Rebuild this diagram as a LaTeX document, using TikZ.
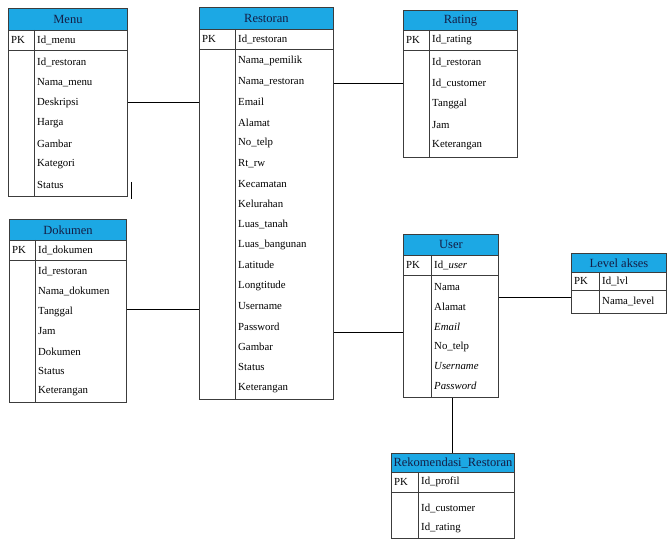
\documentclass[tikz,border=0pt]{standalone}
\usepackage{fontspec}
\setmainfont{Liberation Serif}
\definecolor{hdrblue}{RGB}{28,168,228}
\definecolor{hdrtext}{RGB}{20,30,70}
\definecolor{edge}{RGB}{60,60,60}
\tikzset{
  frame/.style={draw=edge, line width=0.9pt},
  hdr/.style={frame, fill=hdrblue, text=hdrtext, inner sep=0pt, anchor=north west,
    font=\fontsize{12.5}{12.5}\selectfont},
  fld/.style={anchor=west, inner sep=0pt, font=\fontsize{10.8}{10.8}\selectfont},
  link/.style={draw=black, line width=0.9pt}
}
% #1 name, #2 left, #3 right, #4 top, #5 header bottom, #6 key-row bottom,
% #7 bottom, #8 column divider, #9 title
\newcommand\erentity[9]{%
  \node[frame, anchor=north west, inner sep=0pt, minimum width={#3-#2},
        minimum height={#7-#4}] (#1) at (#2,#4) {};
  \node[hdr, minimum width={#3-#2}, minimum height={#5-#4}] (#1-h) at (#2,#4) {#9};
  \coordinate (#1-kl) at (#2,#6);
  \coordinate (#1-kr) at (#3,#6);
  \coordinate (#1-dt) at (#8,#5);
  \coordinate (#1-db) at (#8,#7);
  \coordinate (#1-pk) at (#2,{(#5+#6)/2});
  \coordinate (#1-key) at (#8,{(#5+#6)/2});
  \coordinate (#1-bt) at (#8,#6);
  \draw[frame] (#1-kl) -- (#1-kr);
  \draw[frame] (#1-dt) -- (#1-db);
  \node[fld] (#1-pklabel) at ([xshift=3pt]#1-pk) {PK};
}
% #1 name, #2 key field, #3 top gap, #4 row height, #5 list of fields
\newcommand\erfields[5]{%
  \node[fld] (#1-keylabel) at ([xshift=3pt]#1-key) {#2};
  \foreach \t [count=\i] in {#5} {
    \node[fld] (#1-f\i) at ([xshift=3pt, yshift={-(#3+(\i-0.5)*#4)}]#1-bt) {\t};
  }
}
\begin{document}
\begin{tikzpicture}[x=1pt, y=-1pt]
  \useasboundingbox (0,0) rectangle (667,540);

  \erentity{menu}{8}{127}{8}{30}{50}{196}{34}{Menu}
  \erfields{menu}{Id\_menu}{2pt}{20.43pt}{Id\_restoran, Nama\_menu, Deskripsi, Harga, Gambar, Kategori, Status}

  \erentity{rest}{199}{333}{7}{29}{49}{399}{235}{Restoran}
  \erfields{rest}{Id\_restoran}{2pt}{20.41pt}{Nama\_pemilik, Nama\_restoran, Email, Alamat, No\_telp, Rt\_rw,
    Kecamatan, Kelurahan, Luas\_tanah, Luas\_bangunan, Latitude, Longtitude, Username, Password,
    Gambar, Status, Keterangan}

  \erentity{rating}{403}{517}{10}{30}{50}{157}{429}{Rating}
  \erfields{rating}{Id\_rating}{2pt}{20.8pt}{Id\_restoran, Id\_customer, Tanggal, Jam, Keterangan}

  \erentity{dok}{9}{126}{219}{240}{260}{402}{35}{Dokumen}
  \erfields{dok}{Id\_dokumen}{2pt}{19.86pt}{Id\_restoran, Nama\_dokumen, Tanggal, Jam, Dokumen, Status, Keterangan}

  \erentity{user}{403}{498}{234}{255}{275}{397}{431}{User}
  \erfields{user}{Id\_\textit{user}}{2pt}{19.83pt}{Nama, Alamat, \textit{Email}, No\_telp, \textit{Username}, \textit{Password}}

  \erentity{level}{571}{666}{253}{272}{290}{313}{599}{Level akses}
  \erfields{level}{Id\_lvl}{1pt}{21pt}{Nama\_level}

  \erentity{rek}{391}{514}{453}{472}{492}{538}{418}{Rekomendasi\_Restoran}
  \erfields{rek}{Id\_profil}{6pt}{20pt}{Id\_customer, Id\_rating}

  % relationships
  \draw[link] (menu.east |- 0,102) -- (rest.west |- 0,102);
  \draw[link] (dok.east |- 0,309) -- (rest.west |- 0,309);
  \draw[link] (rest.east |- 0,83) -- (rating.west |- 0,83);
  \draw[link] (rest.east |- 0,332) -- (user.west |- 0,332);
  \draw[link] (user.east |- 0,297) -- (level.west |- 0,297);
  \draw[link] (user.south -| 452,0) -- (rek-h.north -| 452,0);

  % short stroke beside the Menu table
  \coordinate (tickA) at (131,182);
  \coordinate (tickB) at (131,199);
  \draw[link] (tickA) -- (tickB);
\end{tikzpicture}
\end{document}
